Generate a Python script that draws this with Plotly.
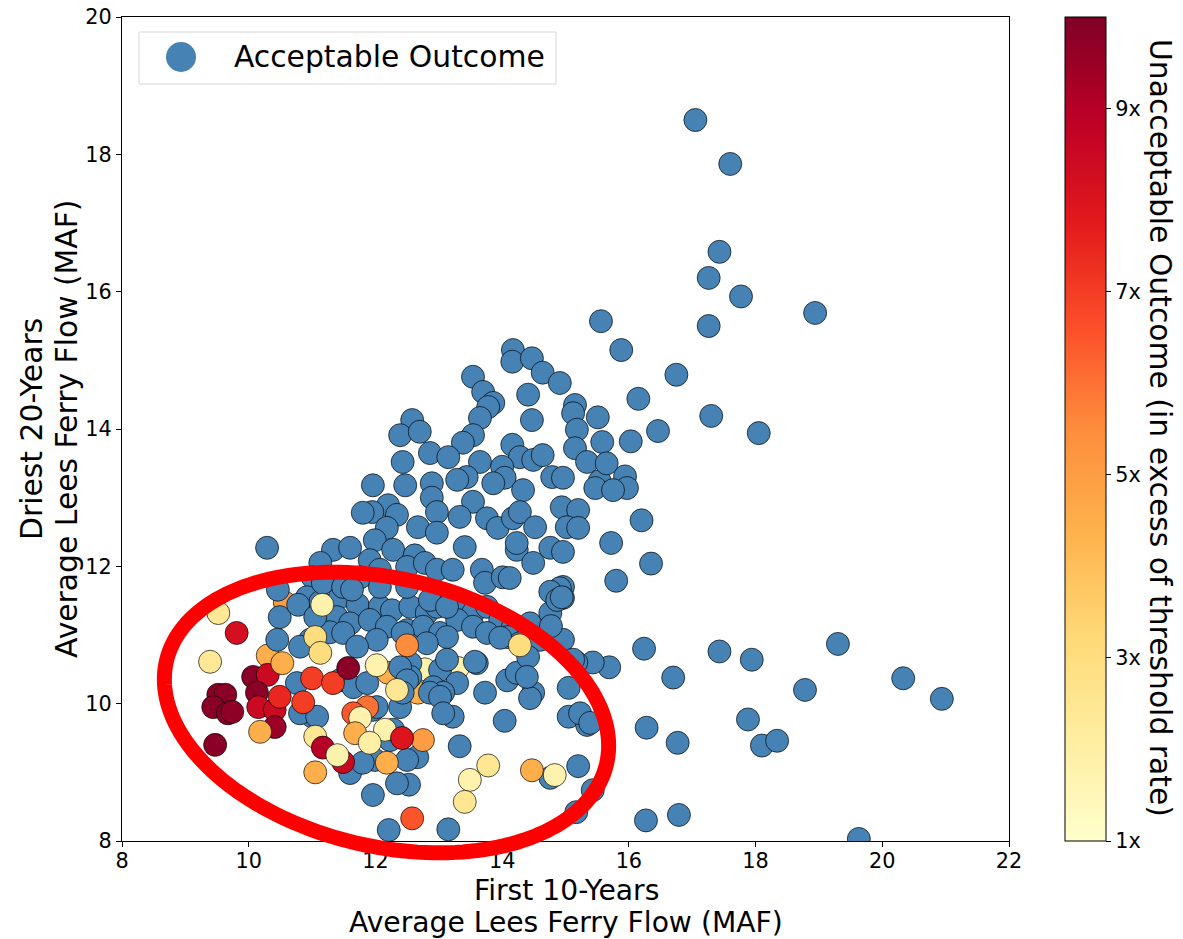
import math
import plotly.graph_objects as go

# ---------------- data ----------------
blue_x = [
    17.05, 17.6, 17.43, 17.26, 17.77, 18.94, 17.26, 15.56, 15.88, 14.17, 16.15, 16.75, 16.46, 17.3, 18.05,
    16.03, 15.94, 16.2, 16.35, 15.8, 15.72, 15.54, 10.29, 16.24, 16.7, 17.43, 17.94, 19.3, 18.78, 20.33,
    20.94, 17.88, 18.1, 18.34, 16.28, 16.77, 16.27, 16.79, 19.63, 15.69, 15.43, 15.17, 15.05, 15.05, 15.34,
    15.2, 15.43, 15.17, 14.76, 13.15, 12.21, 11.96, 12.53, 13.33, 14.04,
    # upper cluster
    14.16, 14.47, 14.64, 14.91, 13.54, 13.7, 13.86, 13.78, 13.65, 13.54, 13.38, 14.41, 14.47, 15.15, 15.12,
    15.51, 15.18, 15.58, 15.15, 15.34, 15.65, 15.47, 12.58, 12.39, 12.7, 12.43, 12.86, 13.15, 13.65, 14.16,
    14.28, 14.49, 14.64, 14.0, 13.44, 14.04, 14.33, 14.79, 14.96, 13.86, 13.29, 12.47, 12.89, 11.96, 12.89,
    13.54, 12.2, 11.95, 11.8, 12.34, 12.97, 13.33, 13.76, 13.93, 14.17, 14.28, 14.52, 14.94, 15.2, 15.02,
    15.2, 12.67, 12.97, 12.18, 11.99, 12.28, 12.62, 13.41, 14.23, 14.49, 14.76, 14.96, 14.23, 11.33, 11.6,
    11.91, 11.13, 11.01, 11.76, 12.07, 12.5, 12.78, 12.97, 13.22, 13.68, 13.73, 14.01, 14.96, 14.12, 14.91,
    15.97, 15.75,
    # lower cluster
    14.76, 14.96, 10.92, 11.13, 11.44, 11.72, 12.07, 12.26, 12.55, 12.81, 12.97, 13.29, 13.54, 13.76, 13.97,
    14.17, 14.44, 14.76, 14.87, 11.13, 11.39, 11.6, 11.91, 12.18, 12.5, 12.75, 13.02, 13.29, 13.54, 13.76,
    14.09, 14.28, 14.6, 14.8, 14.96, 12.02, 13.13, 12.81, 10.97, 12.55, 12.55, 13.02, 13.29, 12.91, 13.07,
    13.22, 13.6, 13.73, 14.08, 14.23, 14.49, 14.44, 15.23, 15.39, 12.66, 12.5, 11.99, 11.6, 12.34, 11.96,
    12.39, 12.23, 11.01,
    10.46, 10.49, 10.78, 11.17, 11.49, 12.07, 12.5, 12.86, 13.13, 10.45, 10.81, 11.28, 11.49, 11.71, 12.43,
    13.13, 12.39, 12.5, 12.43, 12.02, 10.76, 10.81, 11.08, 11.44, 11.65, 11.87, 12.86, 13.02, 13.07, 12.28,
    11.8, 11.05, 11.63, 14.77, 14.41, 14.39, 13.57, 13.97, 14.94, 15.12,
]
blue_y = [
    18.5, 17.86, 16.58, 16.2, 15.93, 15.69, 15.5, 15.57, 15.15, 15.15, 14.44, 14.79, 13.97, 14.19, 13.94,
    13.82, 13.31, 12.67, 12.04, 11.79, 12.34, 13.24, 12.27, 10.8, 10.38, 10.76, 10.64, 10.87, 10.2, 10.37,
    10.07, 9.77, 9.39, 9.46, 9.65, 9.43, 8.3, 8.38, 8.03, 10.53, 10.6, 10.6, 10.23, 9.81, 9.69,
    9.09, 8.74, 8.42, 8.92, 8.17, 8.16, 8.67, 8.82, 9.38, 9.75,
    # upper cluster
    14.98, 15.03, 14.82, 14.67, 14.76, 14.54, 14.38, 14.32, 14.16, 13.91, 13.8, 14.5, 14.13, 14.35, 14.23,
    14.17, 13.99, 13.81, 13.72, 13.52, 13.5, 13.14, 14.13, 13.91, 13.96, 13.52, 13.65, 13.59, 13.52, 13.77,
    13.59, 13.55, 13.62, 13.45, 13.3, 13.29, 13.11, 13.3, 13.29, 13.21, 13.26, 13.18, 13.21, 13.18, 13.0,
    12.94, 12.89, 12.79, 12.78, 12.75, 12.79, 12.72, 12.7, 12.56, 12.7, 12.79, 12.57, 12.86, 12.82, 12.57,
    12.56, 12.57, 12.49, 12.56, 12.38, 12.24, 12.16, 12.28, 12.24, 12.05, 12.27, 12.21, 12.34, 12.24, 12.27,
    12.09, 12.05, 11.84, 11.84, 11.95, 11.99, 12.05, 11.95, 11.95, 11.95, 11.76, 11.84, 11.7, 11.83, 11.68,
    13.14, 13.11,
    # lower cluster
    11.63, 11.54, 11.55, 11.48, 11.55, 11.44, 11.41, 11.36, 11.41, 11.32, 11.41, 11.41, 11.32, 11.41, 11.22,
    11.12, 11.17, 11.32, 11.51, 11.22, 11.26, 11.17, 11.22, 11.12, 11.07, 11.12, 11.03, 11.22, 11.12, 11.03,
    10.97, 10.88, 10.93, 10.97, 10.93, 10.93, 10.97, 10.88, 10.93, 10.59, 10.39, 10.49, 10.3, 10.24, 10.16,
    9.81, 10.59, 10.16, 10.34, 10.45, 10.16, 10.08, 9.86, 9.72, 9.22, 9.18, 9.18, 8.99, 8.84, 9.91,
    9.95, 9.47, 9.81,
    11.66, 11.26, 11.44, 11.76, 11.7, 11.7, 11.7, 11.51, 11.41, 10.93, 10.83, 11.04, 11.03, 10.83, 11.03,
    10.64, 10.53, 10.34, 10.16, 9.95, 10.3, 9.86, 9.81, 10.34, 10.24, 10.3, 10.16, 10.1, 9.86, 9.62,
    9.14, 11.26, 11.66, 11.13, 10.68, 10.39, 10.61, 10.96, 11.55, 10.64,
]

col_x = [
    9.52, 9.81, 9.39, 10.07, 10.3, 9.52, 9.63, 9.44, 9.67, 9.74, 10.13, 10.15, 10.41, 10.41, 10.49,
    10.86, 11.0, 10.18, 9.47, 10.53, 10.3, 10.57, 11.16, 11.05, 11.13, 11.33, 11.57, 12.02, 12.2, 12.5,
    11.87, 11.65, 11.76, 12.34, 11.68, 12.15, 11.05, 11.17, 11.49, 11.4, 11.91, 12.75, 11.05, 12.58, 13.3,
    14.28, 12.42, 12.18, 13.78, 13.49, 13.41, 14.47, 14.83, 12.78, 12.67,
]
col_y = [
    11.32, 11.03, 10.61, 10.39, 10.42, 10.13, 10.13, 9.95, 9.86, 9.88, 10.16, 9.95, 9.91, 9.66, 10.1,
    10.02, 10.37, 9.59, 9.4, 10.59, 10.7, 11.47, 11.44, 10.97, 10.74, 10.3, 10.52, 10.56, 10.45, 10.85,
    9.95, 9.86, 9.79, 10.2, 9.57, 9.62, 9.52, 9.36, 9.15, 9.25, 9.43, 9.47, 9.0, 8.33, 10.52,
    10.85, 9.5, 9.14, 9.1, 8.89, 8.57, 9.03, 8.96, 10.5, 10.16,
]
col_v = [
    2.4, 8.2, 2.4, 9.8, 8.5, 9.8, 9.8, 9.8, 9.8, 9.7, 9.8, 8.5, 8.5, 9.5, 7.5,
    7.0, 7.0, 4.5, 9.8, 4.5, 4.5, 5.0, 1.8, 3.0, 3.0, 7.0, 9.8, 1.8, 4.5, 5.5,
    6.0, 6.5, 1.8, 2.5, 4.5, 1.8, 2.5, 9.0, 8.5, 1.8, 2.0, 5.0, 4.5, 6.5, 1.8,
    3.0, 8.0, 4.5, 2.5, 1.8, 2.5, 4.5, 1.8, 1.8, 4.5,
]
# drawing order: 1 = drawn above the acceptable (blue) points
col_top = [
    1, 1, 1, 1, 1, 1, 1, 1, 1, 1, 1, 1, 1, 1, 1,
    1, 1, 1, 1, 1, 0, 0, 1, 1, 1, 1, 1, 1, 0, 1,
    1, 1, 1, 1, 1, 1, 1, 1, 1, 1, 1, 1, 1, 1, 0,
    1, 1, 1, 1, 1, 1, 1, 1, 0, 0,
]

x_ticks = [8, 10, 12, 14, 16, 18, 20, 22]
y_ticks = [8, 10, 12, 14, 16, 18, 20]
cb_ticks = [1, 3, 5, 7, 9]
cb_labels = ["1x", "3x", "5x", "7x", "9x"]

# ---------------- style ----------------
FONT = "DejaVu Sans"
W, H = 1183, 939
ML, MR, MT, MB = 122, 174, 17, 98
PW, PH = W - ML - MR, H - MT - MB
BIG = 29.8
XT = 28.2
TICK = 20.8

ylorrd = [
    [0.0, "#ffffcc"], [0.125, "#ffeda0"], [0.25, "#fed976"], [0.375, "#feb24c"],
    [0.5, "#fd8d3c"], [0.625, "#fc4e2a"], [0.75, "#e31a1c"], [0.875, "#bd0026"], [1.0, "#800026"],
]
edge = dict(color="rgba(0,0,0,0.75)", width=0.9)


def colored_trace(flag, with_bar):
    idx = [i for i, f in enumerate(col_top) if f == flag]
    marker = dict(size=23, color=[col_v[i] for i in idx], cmin=1, cmax=10,
                  colorscale=ylorrd, line=edge, showscale=with_bar)
    if with_bar:
        marker["colorbar"] = dict(
            thickness=41, len=1, lenmode="fraction", y=0.5, yanchor="middle",
            x=(1065 - ML) / PW, xanchor="left", xpad=0, ypad=0,
            outlinewidth=1, outlinecolor="black",
            tickvals=cb_ticks, ticktext=cb_labels, ticks="outside", ticklen=5,
            tickcolor="black", tickfont=dict(family=FONT, size=TICK, color="black"),
        )
    return go.Scatter(x=[col_x[i] for i in idx], y=[col_y[i] for i in idx],
                      mode="markers", showlegend=False, marker=marker)


fig = go.Figure()
fig.add_trace(colored_trace(0, False))
fig.add_trace(go.Scatter(
    x=blue_x, y=blue_y, mode="markers", showlegend=False, name="Acceptable Outcome",
    marker=dict(size=23, color="#4682B4", line=edge),
))
fig.add_trace(colored_trace(1, True))

axis_common = dict(
    showgrid=False, zeroline=False, showline=True, mirror=True, linecolor="black", linewidth=1,
    ticks="outside", ticklen=5, tickcolor="black",
    tickfont=dict(family=FONT, size=TICK, color="black"),
)
fig.update_xaxes(range=[8, 22], tickvals=x_ticks, ticklabelstandoff=-4, **axis_common)
fig.update_yaxes(range=[8, 20], tickvals=y_ticks, **axis_common)

# ellipse highlight (pixel geometry within the plot area)
ecx, ecy, ea, eb, eth = 386.5 - ML, 712.5 - MT, 226.0, 134.0, math.radians(13.2)
pts = []
for i in range(0, 181):
    t = 2 * math.pi * i / 180
    px = ecx + ea * math.cos(t) * math.cos(eth) - eb * math.sin(t) * math.sin(eth)
    py = ecy + ea * math.cos(t) * math.sin(eth) + eb * math.sin(t) * math.cos(eth)
    pts.append((px / PW, 1 - py / PH))
path = "M " + " L ".join(f"{a:.5f},{b:.5f}" for a, b in pts) + " Z"

shapes = [
    dict(type="path", path=path, xref="paper", yref="paper",
         line=dict(color="#ff0000", width=15), layer="above"),
    # legend box
    dict(type="rect", xref="paper", yref="paper",
         x0=(139 - ML) / PW, x1=(556 - ML) / PW, y0=(841 - 84) / PH, y1=(841 - 32) / PH,
         line=dict(color="#d6d6d6", width=1), fillcolor="rgba(255,255,255,0.85)", layer="above"),
    dict(type="circle", xref="paper", yref="paper", xsizemode="pixel", ysizemode="pixel",
         xanchor=(181 - ML) / PW, yanchor=(841 - 57) / PH, x0=-15, x1=15, y0=-15, y1=15,
         fillcolor="#4682B4", line=dict(width=0), layer="above"),
]


def txt(text, px, py, angle=0, anchor="center", size=BIG):
    return dict(text=text, xref="paper", yref="paper", x=(px - ML) / PW, y=(841 - py) / PH,
                xanchor=anchor, yanchor="middle", showarrow=False, textangle=angle,
                font=dict(family=FONT, size=size, color="black"), borderpad=0)


annotations = [
    txt("Acceptable Outcome", 233, 57, anchor="left"),
    txt("First 10-Years", 566, 890.5, size=XT),
    txt("Average Lees Ferry Flow (MAF)", 566, 922.4, size=XT),
    txt("Driest 20-Years", 31, 429, angle=-90),
    txt("Average Lees Ferry Flow (MAF)", 66, 429, angle=-90),
    txt("Unacceptable Outcome (in excess of threshold rate)", 1160, 428, angle=90),
]

fig.update_layout(
    width=W, height=H, margin=dict(l=ML, r=MR, t=MT, b=MB, autoexpand=False),
    plot_bgcolor="white", paper_bgcolor="white",
    font=dict(family=FONT, color="black"),
    shapes=shapes, annotations=annotations, showlegend=False,
)

fig.write_html("out.html")
